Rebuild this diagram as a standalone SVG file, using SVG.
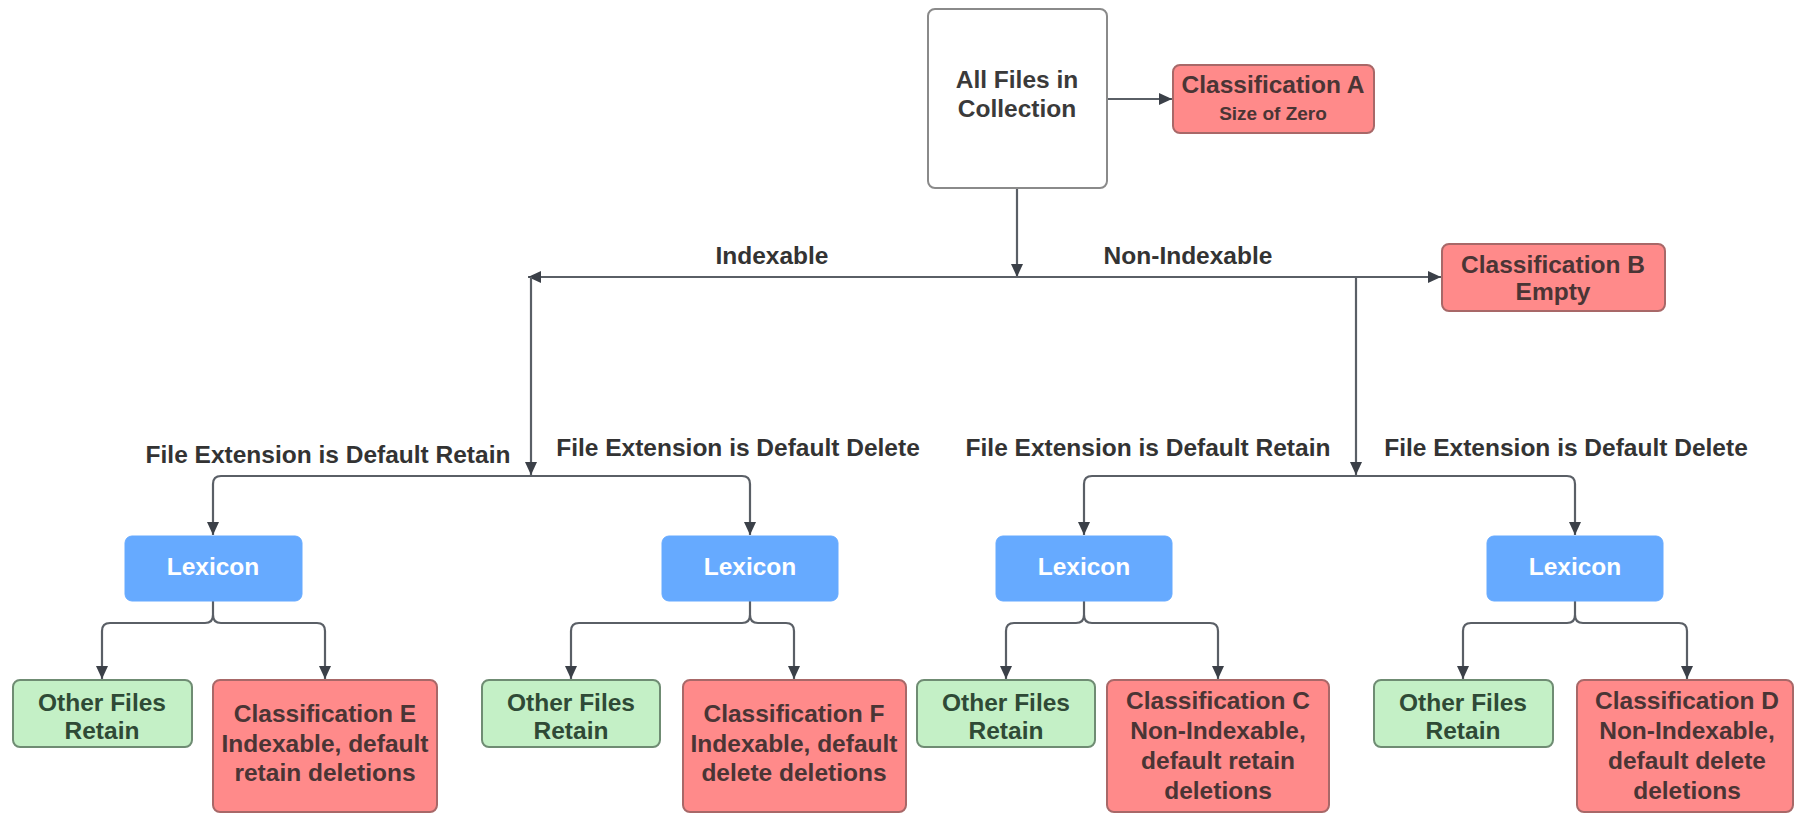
<svg xmlns="http://www.w3.org/2000/svg" width="1794" height="813" viewBox="0 0 1794 813">
<defs>
<marker id="arr" markerUnits="userSpaceOnUse" markerWidth="14" markerHeight="12" refX="13" refY="6" orient="auto">
<path d="M0,0 L13,6 L0,12 z" fill="#3b4048"/>
</marker>
<style>
text{font-family:"Liberation Sans",Arial,sans-serif;font-weight:bold;font-size:24.5px;text-anchor:middle}
.conn{fill:none;stroke:#5a5f66;stroke-width:2.2}
.arr{marker-end:url(#arr)}
.white{fill:#fff;stroke:#8a8a8a;stroke-width:2}
.red{fill:#ff8a8a;stroke:#a86868;stroke-width:2}
.green{fill:#c4f0c6;stroke:#6f8c73;stroke-width:2}
.blue{fill:#66aaff;stroke:#66aaff;stroke-width:1}
.tw{fill:#3a3a3a}
.tr{fill:#4a3535}
.tg{fill:#2f4a36}
.tb{fill:#ffffff}
.lbl{fill:#333333}
</style>
</defs>
<rect width="1794" height="813" fill="#ffffff"/>

<g id="connectors">
<path class="conn arr" d="M1107,99 L1172,99"/>
<path class="conn arr" d="M1017,188 L1017,277"/>
<path class="conn arr" d="M1017,277 L528,277"/>
<path class="conn arr" d="M1017,277 L1441,277"/>
<path class="conn arr" d="M531,277 L531,475"/>
<path class="conn arr" d="M1356,277 L1356,475"/>
<path class="conn arr" d="M531,476 L221,476 Q213,476 213,484 L213,535"/>
<path class="conn arr" d="M531,476 L742,476 Q750,476 750,484 L750,535"/>
<path class="conn arr" d="M1356,476 L1092,476 Q1084,476 1084,484 L1084,535"/>
<path class="conn arr" d="M1356,476 L1567,476 Q1575,476 1575,484 L1575,535"/>
<path class="conn arr" d="M213,601 L213,615 Q213,623 205,623 L110,623 Q102,623 102,631 L102,679"/>
<path class="conn arr" d="M213,615 Q213,623 221,623 L317,623 Q325,623 325,631 L325,679"/>
<path class="conn arr" d="M750,601 L750,615 Q750,623 742,623 L579,623 Q571,623 571,631 L571,679"/>
<path class="conn arr" d="M750,615 Q750,623 758,623 L786,623 Q794,623 794,631 L794,679"/>
<path class="conn arr" d="M1084,601 L1084,615 Q1084,623 1076,623 L1014,623 Q1006,623 1006,631 L1006,679"/>
<path class="conn arr" d="M1084,615 Q1084,623 1092,623 L1210,623 Q1218,623 1218,631 L1218,679"/>
<path class="conn arr" d="M1575,601 L1575,615 Q1575,623 1567,623 L1471,623 Q1463,623 1463,631 L1463,679"/>
<path class="conn arr" d="M1575,615 Q1575,623 1583,623 L1679,623 Q1687,623 1687,631 L1687,679"/>
<text class="lbl" x="772" y="264">Indexable</text>
<text class="lbl" x="1188" y="264">Non-Indexable</text>
<text class="lbl" x="328" y="463">File Extension is Default Retain</text>
<text class="lbl" x="738" y="456">File Extension is Default Delete</text>
<text class="lbl" x="1148" y="456">File Extension is Default Retain</text>
<text class="lbl" x="1566" y="456">File Extension is Default Delete</text>
</g>

<g id="all-files">
<rect class="white" x="928" y="9" width="179" height="179" rx="7"/>
<text class="tw" x="1017" y="88">All Files in</text>
<text class="tw" x="1017" y="117">Collection</text>
</g>

<g id="class-a">
<rect class="red" x="1173" y="65" width="201" height="68" rx="7"/>
<text class="tr" x="1273" y="93">Classification A</text>
<text class="tr" x="1273" y="120" style="font-size:19px">Size of Zero</text>
</g>

<g id="class-b">
<rect class="red" x="1442" y="244" width="223" height="67" rx="7"/>
<text class="tr" x="1553" y="273">Classification B</text>
<text class="tr" x="1553" y="300">Empty</text>
</g>

<g id="lexicon-1">
<rect class="blue" x="125" y="536" width="177" height="65" rx="7"/>
<text class="tb" x="213" y="575">Lexicon</text>
</g>
<g id="lexicon-2">
<rect class="blue" x="662" y="536" width="176" height="65" rx="7"/>
<text class="tb" x="750" y="575">Lexicon</text>
</g>
<g id="lexicon-3">
<rect class="blue" x="996" y="536" width="176" height="65" rx="7"/>
<text class="tb" x="1084" y="575">Lexicon</text>
</g>
<g id="lexicon-4">
<rect class="blue" x="1487" y="536" width="176" height="65" rx="7"/>
<text class="tb" x="1575" y="575">Lexicon</text>
</g>

<g id="other-1">
<rect class="green" x="13" y="680" width="179" height="67" rx="7"/>
<text class="tg" x="102" y="711">Other Files</text>
<text class="tg" x="102" y="739">Retain</text>
</g>
<g id="class-e">
<rect class="red" x="213" y="680" width="224" height="132" rx="7"/>
<text class="tr" x="325" y="722">Classification E</text>
<text class="tr" x="325" y="752">Indexable, default</text>
<text class="tr" x="325" y="781">retain deletions</text>
</g>

<g id="other-2">
<rect class="green" x="482" y="680" width="178" height="67" rx="7"/>
<text class="tg" x="571" y="711">Other Files</text>
<text class="tg" x="571" y="739">Retain</text>
</g>
<g id="class-f">
<rect class="red" x="683" y="680" width="223" height="132" rx="7"/>
<text class="tr" x="794" y="722">Classification F</text>
<text class="tr" x="794" y="752">Indexable, default</text>
<text class="tr" x="794" y="781">delete deletions</text>
</g>

<g id="other-3">
<rect class="green" x="917" y="680" width="178" height="67" rx="7"/>
<text class="tg" x="1006" y="711">Other Files</text>
<text class="tg" x="1006" y="739">Retain</text>
</g>
<g id="class-c">
<rect class="red" x="1107" y="680" width="222" height="132" rx="7"/>
<text class="tr" x="1218" y="709">Classification C</text>
<text class="tr" x="1218" y="739">Non-Indexable,</text>
<text class="tr" x="1218" y="769">default retain</text>
<text class="tr" x="1218" y="799">deletions</text>
</g>

<g id="other-4">
<rect class="green" x="1374" y="680" width="179" height="67" rx="7"/>
<text class="tg" x="1463" y="711">Other Files</text>
<text class="tg" x="1463" y="739">Retain</text>
</g>
<g id="class-d">
<rect class="red" x="1577" y="680" width="216" height="132" rx="7"/>
<text class="tr" x="1687" y="709">Classification D</text>
<text class="tr" x="1687" y="739">Non-Indexable,</text>
<text class="tr" x="1687" y="769">default delete</text>
<text class="tr" x="1687" y="799">deletions</text>
</g>
</svg>
